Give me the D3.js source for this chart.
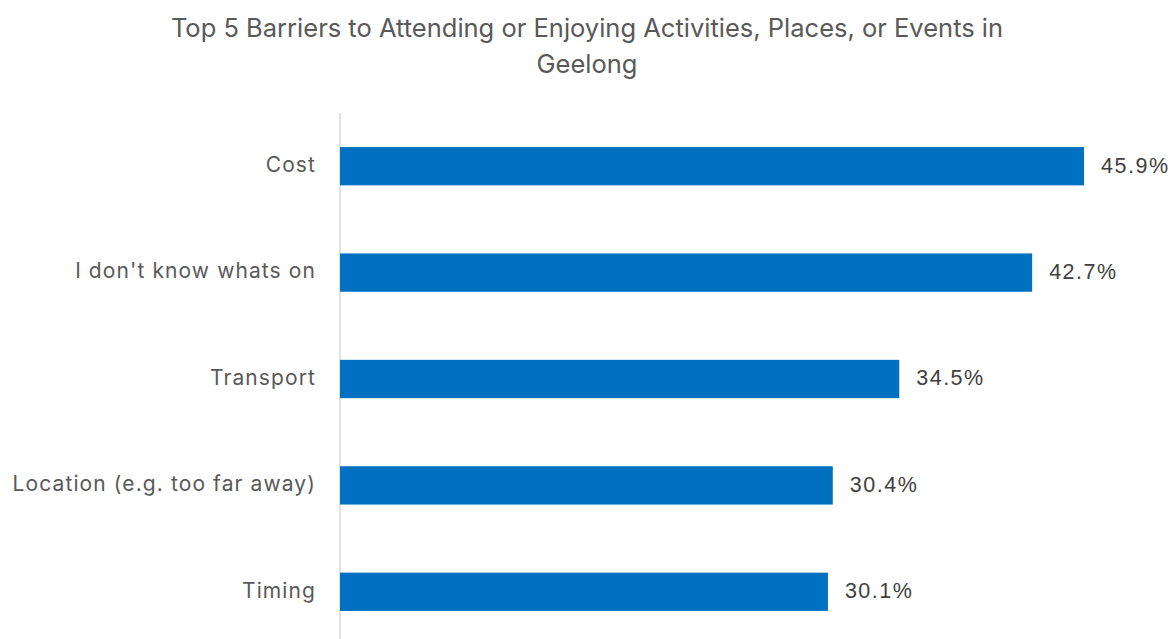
<!DOCTYPE html>
<html><head><meta charset="utf-8">
<script src="https://cdn.jsdelivr.net/npm/d3@7"></script>
<style>body{margin:0;background:#fff}</style>
</head><body>
<svg id="c" width="1175" height="639"></svg>
<script>
const categories = ["Cost", "I don't know whats on", "Transport", "Location (e.g. too far away)", "Timing"];
const values = [45.9, 42.7, 34.5, 30.4, 30.1];
const titleLines = ["Top 5 Barriers to Attending or Enjoying Activities, Places, or Events in", "Geelong"];

const svg = d3.select("#c");
const x = d3.scaleLinear().domain([0, 50]).range([340, 1150.5]);
const y = d3.scaleBand().domain(categories).range([113, 645]).paddingInner(0.64).paddingOuter(0.32);

svg.append("text").attr("x", 587).attr("text-anchor", "middle")
  .attr("font-family", "Inter, 'Open Sans', sans-serif").attr("font-size", 25.5).attr("fill", "#595959")
  .selectAll("tspan").data(titleLines).join("tspan")
  .attr("x", 587).attr("y", (d, i) => 37 + i * 36).text(d => d);

svg.append("line").attr("x1", 340).attr("x2", 340).attr("y1", 113).attr("y2", 639)
  .attr("stroke", "#d9d9d9").attr("stroke-width", 1.5);

svg.selectAll("rect.bar").data(values).join("rect").attr("class", "bar")
  .attr("x", x(0)).attr("y", (d, i) => y(categories[i]))
  .attr("width", d => x(d) - x(0)).attr("height", y.bandwidth())
  .attr("fill", "#0070C0");

svg.selectAll("text.cat").data(categories).join("text").attr("class", "cat")
  .attr("x", 316).attr("y", d => y(d) + y.bandwidth() / 2).attr("dy", "0.28em")
  .attr("text-anchor", "end").attr("font-family", "Inter, 'Open Sans', sans-serif")
  .attr("font-size", 21).attr("letter-spacing", 1.1).attr("fill", "#595959").text(d => d);

svg.selectAll("text.val").data(values).join("text").attr("class", "val")
  .attr("x", d => x(d) + 17).attr("y", (d, i) => y(categories[i]) + y.bandwidth() / 2).attr("dy", "0.3em")
  .attr("font-family", "'Liberation Sans', Arial, sans-serif")
  .attr("font-size", 21.5).attr("letter-spacing", 1.5).attr("fill", "#404040").text(d => d.toFixed(1) + "%");
</script>
</body></html>
